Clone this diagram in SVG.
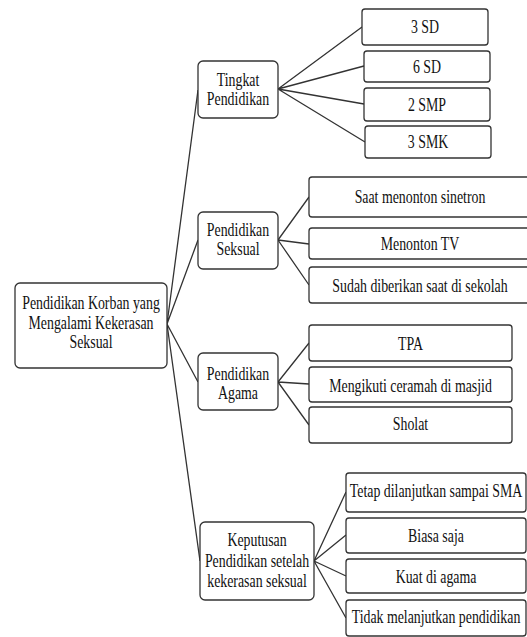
<svg xmlns="http://www.w3.org/2000/svg" width="527" height="637" viewBox="0 0 527 637">
<style>
.b{fill:#fff;stroke:#333;stroke-width:1.3}
text{font-family:'Liberation Serif','DejaVu Serif',serif;font-size:18px;fill:#111;text-anchor:middle}
.c{stroke:#333;stroke-width:1.3;fill:none}
</style>
<rect width="527" height="637" fill="#fff"/>
<g id="connectors">
<path class="c" d="M167 324L198 90M167 324L198 240M167 324L198 382M167 324L200 561"/>
<path class="c" d="M278 89L362 27M278 89L364 66M278 89L364 104M278 89L365 142"/>
<path class="c" d="M278 240L309 197M278 240L309 244M278 240L309 285"/>
<path class="c" d="M278 382L309 343M278 382L309 384M278 382L309 425"/>
<path class="c" d="M314 561L346 492M314 561L346 535M314 561L346 576M314 561L346 618"/>
</g>
<g id="root"><rect class="b" x="15" y="283" width="152" height="85" rx="5"/>
<g transform="translate(91 0) scale(0.77 1)"><text x="0" y="309">Pendidikan Korban yang</text><text x="0" y="329">Mengalami Kekerasan</text><text x="0" y="348">Seksual</text></g></g>
<g id="tingkat"><rect class="b" x="198" y="61" width="80" height="57" rx="5"/>
<g transform="translate(238 0) scale(0.77 1)"><text x="0" y="86">Tingkat</text><text x="0" y="105">Pendidikan</text></g></g>
<g id="seksual"><rect class="b" x="198" y="212" width="80" height="57" rx="5"/>
<g transform="translate(238 0) scale(0.77 1)"><text x="0" y="236">Pendidikan</text><text x="0" y="255">Seksual</text></g></g>
<g id="agama"><rect class="b" x="198" y="353" width="80" height="57" rx="5"/>
<g transform="translate(238 0) scale(0.77 1)"><text x="0" y="380">Pendidikan</text><text x="0" y="399">Agama</text></g></g>
<g id="keputusan"><rect class="b" x="200" y="522" width="114" height="78" rx="5"/>
<g transform="translate(257 0) scale(0.77 1)"><text x="0" y="546">Keputusan</text><text x="0" y="567">Pendidikan setelah</text><text x="0" y="587">kekerasan seksual</text></g></g>
<g id="sd3"><rect class="b" x="362" y="9" width="126" height="36" rx="3"/><g transform="translate(425 0) scale(0.77 1)"><text x="0" y="33">3 SD</text></g></g>
<g id="sd6"><rect class="b" x="364" y="51" width="126" height="31" rx="3"/><g transform="translate(427 0) scale(0.77 1)"><text x="0" y="73">6 SD</text></g></g>
<g id="smp2"><rect class="b" x="364" y="88" width="126" height="33" rx="3"/><g transform="translate(427 0) scale(0.77 1)"><text x="0" y="111">2 SMP</text></g></g>
<g id="smk3"><rect class="b" x="365" y="126" width="126" height="32" rx="3"/><g transform="translate(428 0) scale(0.77 1)"><text x="0" y="148">3 SMK</text></g></g>
<g id="sinetron"><rect class="b" x="309" y="177" width="222" height="40" rx="3"/><g transform="translate(420 0) scale(0.77 1)"><text x="0" y="203">Saat menonton sinetron</text></g></g>
<g id="tv"><rect class="b" x="309" y="228" width="222" height="31" rx="3"/><g transform="translate(420 0) scale(0.77 1)"><text x="0" y="250">Menonton TV</text></g></g>
<g id="sekolah"><rect class="b" x="309" y="267" width="222" height="36" rx="3"/><g transform="translate(420 0) scale(0.77 1)"><text x="0" y="292">Sudah diberikan saat di sekolah</text></g></g>
<g id="tpa"><rect class="b" x="309" y="325" width="203" height="36" rx="3"/><g transform="translate(410.5 0) scale(0.77 1)"><text x="0" y="350">TPA</text></g></g>
<g id="ceramah"><rect class="b" x="309" y="367" width="203" height="35" rx="3"/><g transform="translate(410.5 0) scale(0.77 1)"><text x="0" y="392">Mengikuti ceramah di masjid</text></g></g>
<g id="sholat"><rect class="b" x="309" y="407" width="203" height="36" rx="3"/><g transform="translate(410.5 0) scale(0.77 1)"><text x="0" y="430">Sholat</text></g></g>
<g id="sma"><rect class="b" x="346" y="473" width="180" height="39" rx="3"/><g transform="translate(436 0) scale(0.77 1)"><text x="0" y="497">Tetap dilanjutkan sampai SMA</text></g></g>
<g id="biasa"><rect class="b" x="346" y="518" width="180" height="35" rx="3"/><g transform="translate(436 0) scale(0.77 1)"><text x="0" y="542">Biasa saja</text></g></g>
<g id="kuat"><rect class="b" x="346" y="559" width="180" height="34" rx="3"/><g transform="translate(436 0) scale(0.77 1)"><text x="0" y="583">Kuat di agama</text></g></g>
<g id="tidak"><rect class="b" x="346" y="600" width="180" height="36" rx="3"/><g transform="translate(436 0) scale(0.77 1)"><text x="0" y="623">Tidak melanjutkan pendidikan</text></g></g>
</svg>
